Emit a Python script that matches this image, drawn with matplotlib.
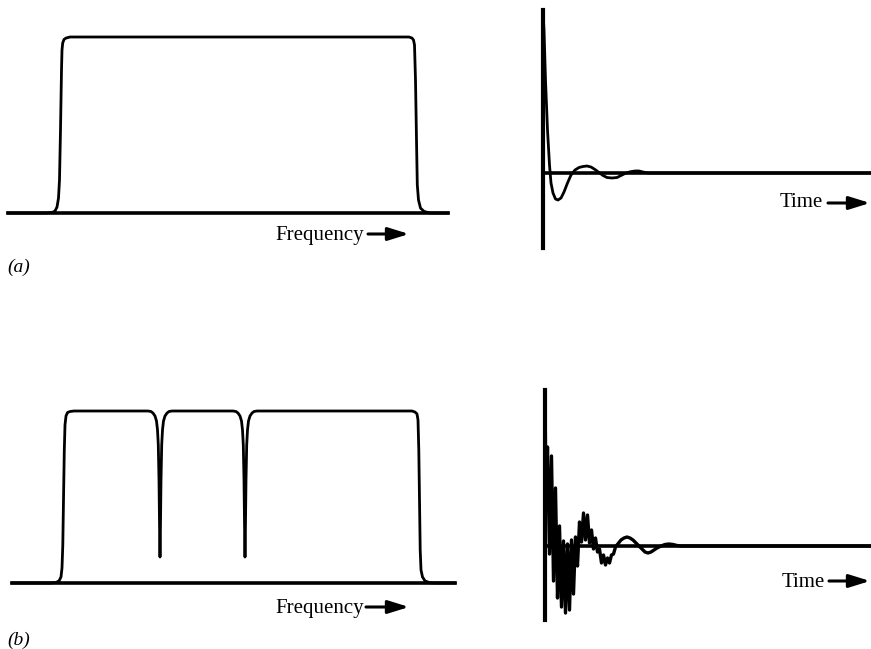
import matplotlib
matplotlib.use("Agg")
import matplotlib.pyplot as plt
from matplotlib.patches import FancyArrowPatch

W, H = 871, 649

# (a) smooth band-pass: frequency offset vs. gain (% of passband)
freq_a = [0, 38, 44, 47, 49, 50.5, 51.5, 52.5, 53.5, 54, 54.7, 56, 58, 62,
          401, 404, 405.5, 406.5, 407.5, 408.5, 409.3, 410.5, 412.5, 416, 422, 440]
gain_a = [0, 0, 0.3, 1.1, 3.4, 8.5, 18.8, 47.2, 81.3, 92.6, 96.6, 98.6, 99.4, 100,
          100, 99.4, 98.3, 95.5, 75.6, 41.5, 15.9, 7.4, 2.8, 0.9, 0, 0]

# (b) same band with two narrow notches
freq_b = [0, 38, 44, 47, 49, 50, 50.8, 51.5, 52.3, 53, 54, 55.5, 58, 62,
          136, 139, 141, 143, 144.5, 145.5, 146.3, 147, 147.6, 148,
          148.4, 149, 149.7, 150.5, 151.5, 153, 155, 157, 160,
          221, 224, 226, 228, 229.5, 230.5, 231.3, 232, 232.6, 233,
          233.4, 234, 234.7, 235.5, 236.5, 238, 240, 242, 245,
          400, 403, 405, 406, 406.8, 407.5, 408.2, 409, 410.5, 413, 418, 424, 443]
gain_b = [0, 0, 0.3, 1.2, 3.5, 8.7, 22.1, 48.3, 77.3, 91.9, 97.1, 99.1, 99.7, 100,
          100, 99.7, 98.8, 97.1, 94.2, 89.0, 80.2, 59.9, 30.8, 15.1,
          30.8, 59.9, 80.2, 89.0, 94.2, 97.1, 98.8, 99.7, 100,
          100, 99.7, 98.8, 97.1, 94.2, 89.0, 80.2, 59.9, 30.8, 15.1,
          30.8, 59.9, 80.2, 89.0, 94.2, 97.1, 98.8, 99.7, 100,
          100, 99.4, 98.3, 94.8, 77.3, 48.3, 19.2, 7.6, 3.5, 1.2, 0.1, 0, 0]

# impulse responses (time in samples, arbitrary amplitude)
time_a = [0, 1, 2.5, 4.5, 6.5, 8, 10, 12.5, 15, 18, 21, 24.5, 28, 32, 36, 40,
          44, 48, 52, 56, 60, 64, 69, 74, 78, 82, 87, 92, 96, 100, 105, 328]
resp_a = [161, 143, 93, 43, 8, -10, -20, -26, -27, -25, -19, -10, -2, 3, 5.5, 6.5,
          7, 6, 3.5, 0.5, -2.5, -4.5, -5, -4.5, -2.5, -0.5, 1.2, 2, 2, 1, 0, 0]

time_b = [0, 1, 2.5, 4.5, 6.5, 8.5, 10.5, 12.5, 14.5, 16.5,
          18.5, 20.5, 22.5, 24.5, 26.5, 28.5, 30.5, 32.5, 34.5, 36.5,
          38.5, 40.5, 42.5, 44.5, 46.5, 48.5, 50.5, 52.5, 54.5, 56.5,
          58.5, 60.5, 62.5, 64.5, 66.5, 68.5, 70.5, 72,
          76, 79, 82, 85, 88, 91, 94, 97, 100,
          103, 106, 109, 112, 116, 120, 124, 128, 132, 136, 326]
resp_b = [156, 40, 99, -8, 90, -35, 58, -52, 20, -61,
          5, -67, 2, -64, 6, -48, 9, -20, 24, 4,
          33, 6, 31, 3, 16, -3, 8, -6, -3, -17,
          -9, -19, -12, -17, -9, -8, -1, 1,
          6, 8, 9, 8, 6, 3, 0, -3, -6,
          -7, -6, -4, -2, 0, 1.5, 2, 1.5, 0.5, 0, 0]

SERIF = "Liberation Serif"

fig = plt.figure(figsize=(W / 100, H / 100), dpi=100)


def panel(x0, x1, ytop, ybot, xlim, ylim):
    # axes placed in pixel units so each trace lands where it should
    ax = fig.add_axes([x0 / W, 1 - ybot / H, (x1 - x0) / W, (ybot - ytop) / H])
    ax.set_xlim(*xlim)
    ax.set_ylim(*ylim)
    ax.axis("off")
    return ax


def axis_label(text, x_text, y_base, xa0, xa1, ya):
    fig.text(x_text / W, 1 - y_base / H, text, family=SERIF, fontsize=15,
             va="baseline", ha="left")
    arr = FancyArrowPatch((xa0 / W, 1 - ya / H), (xa1 / W, 1 - ya / H),
                          transform=fig.transFigure,
                          arrowstyle="-|>,head_length=0.9,head_width=0.28",
                          mutation_scale=14, lw=2.2, color="black",
                          shrinkA=0, shrinkB=0)
    fig.add_artist(arr)


line_kw = dict(color="black", lw=2, solid_joinstyle="round", clip_on=False)

# (a) frequency response
ax = panel(8, 448, 37, 213, (0, 440), (0, 100))
ax.axhline(0, color="black", lw=2.6, clip_on=False)
ax.plot(freq_a, gain_a, **line_kw)

# (a) impulse response
ax = panel(543, 871, 10, 248, (0, 328), (-75, 163))
ax.axvline(0, color="black", lw=3, clip_on=False)
ax.axhline(0, color="black", lw=2.6, clip_on=False)
ax.plot(time_a, resp_a, **line_kw)

# (b) frequency response with notches
ax = panel(12, 455, 411, 583, (0, 443), (0, 100))
ax.axhline(0, color="black", lw=2.6, clip_on=False)
ax.plot(freq_b, gain_b, **line_kw)

# (b) impulse response
ax = panel(545, 871, 390, 620, (0, 326), (-74, 156))
ax.axvline(0, color="black", lw=3, clip_on=False)
ax.axhline(0, color="black", lw=2.6, clip_on=False)
ax.plot(time_b, resp_b, color="black", lw=2.4, solid_joinstyle="round", clip_on=False)

axis_label("Frequency", 275, 240, 368, 409, 234)
axis_label("Time", 780, 207, 828, 870, 203)
axis_label("Frequency", 275, 613, 366, 409, 607)
axis_label("Time", 782, 587, 829, 870, 581)

fig.text(7 / W, 1 - 272 / H, "(a)", family=SERIF, style="italic", fontsize=14,
         va="baseline")
fig.text(7 / W, 1 - 645 / H, "(b)", family=SERIF, style="italic", fontsize=14,
         va="baseline")

fig.savefig("out.png", dpi=100)
